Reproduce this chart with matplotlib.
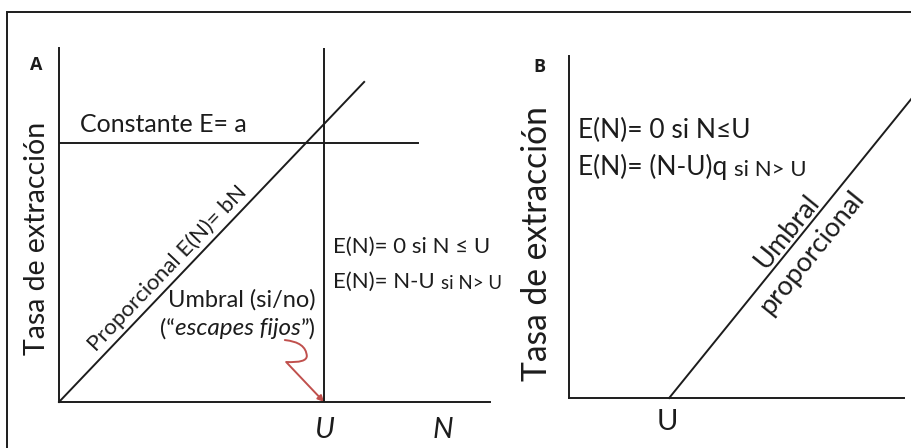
import numpy as np
import matplotlib
matplotlib.use("Agg")
import matplotlib.pyplot as plt
from matplotlib.path import Path
from matplotlib.patches import FancyArrowPatch, Rectangle

plt.rcParams['font.family'] = ['Lato', 'DejaVu Sans']

# ---- Panel A: harvest rules (axis units 0..100) ----
U_A = 61.5          # threshold population size
a_const = 73.2      # constant harvest E = a
const_end = 83.3    # extent of constant-harvest line
b_slope = 1.277     # proportional harvest E(N) = bN
prop_end = 70.8     # extent of proportional line
n_label_x = 89.1    # position of the N label

# ---- Panel B: proportional threshold ----
U_B = 29.9
q_slope = 1.21
thr_end = 102.4

# red pointer from the "escapes fijos" note down to U
pointer_x = [52.4, 57.3, 57.5, 57.5, 52.7, 61.5]
pointer_y = [17.5, 16.9, 13.0, 11.0, 11.3, 0.0]

ink = '#1c1c1c'
LW = 1.4
W, H = 912, 448

fig = plt.figure(figsize=(W / 100, H / 100), dpi=100)


def axes_px(left, right, top, bottom):
    return fig.add_axes([left / W, 1 - bottom / H, (right - left) / W, (bottom - top) / H])


axA = axes_px(59, 490, 48, 402)
axB = axes_px(569, 904, 56, 398)
for ax in (axA, axB):
    ax.set_xlim(0, 100)
    ax.set_ylim(0, 100)
    for s in ('top', 'right'):
        ax.spines[s].set_visible(False)
    for s in ('left', 'bottom'):
        ax.spines[s].set_linewidth(LW)
        ax.spines[s].set_color(ink)
    ax.set_xticks([])
    ax.set_yticks([])
    ax.patch.set_alpha(0)

# outer frame
fig.add_artist(Rectangle((7.3 / W, -0.05), 1.0, 1 - 11.7 / H + 0.05,
                         transform=fig.transFigure, fill=False, lw=1.4, ec=ink))

# ---------------- Panel A ----------------
axA.plot([0, const_end], [a_const, a_const], color=ink, lw=LW)
axA.plot([U_A, U_A], [0, 100], color=ink, lw=LW)
axA.plot([0, prop_end], [0, b_slope * prop_end], color=ink, lw=LW, clip_on=False)

axA.text(4.9, 76.3, "Constante E= a", fontsize=18, color=ink, va='baseline')

# unit normal (display-space) for the offset of the diagonal label
p0 = axA.transData.transform((0, 0))
p1 = axA.transData.transform((prop_end, b_slope * prop_end))
d = (p1 - p0) / np.linalg.norm(p1 - p0)
nrm = np.array([-d[1], d[0]])
xf = 27.5
axA.annotate("Proporcional E(N)= bN", xy=(xf, b_slope * xf),
             xytext=tuple(5 * nrm), textcoords='offset points',
             rotation=np.degrees(np.arctan2(d[1], d[0])), rotation_mode='anchor',
             ha='center', va='baseline', fontsize=16, color=ink)

axA.text(25.3, 26.9, "Umbral (si/no)", fontsize=17, color=ink, va='baseline')
t1 = axA.text(23.4, 18.9, "(\u201c", fontsize=17, color=ink, va='baseline')
t2 = axA.annotate("escapes fijos", xy=(1, 0), xycoords=t1, va='bottom',
                  fontsize=17.5, color=ink, style='italic')
axA.annotate("\u201d)", xy=(1, 0), xycoords=t2, va='bottom',
             fontsize=17, color=ink)

axA.text(63.6, 42.1, "E(N)= 0 si N \u2264 U", fontsize=16, color=ink, va='baseline')
e1 = axA.text(63.6, 32.2, "E(N)= N-U ", fontsize=16, color=ink, va='baseline')
axA.annotate("si N> U", xy=(1, 0), xycoords=e1, va='bottom', fontsize=13.5, color=ink)

axA.text(U_A, -8, "U", fontsize=21, style='italic', ha='center', va='center', color=ink)
axA.text(n_label_x, -8, "N", fontsize=21, style='italic', ha='center', va='center', color=ink)

arrow_path = Path(list(zip(pointer_x, pointer_y)),
                  [Path.MOVETO, Path.CURVE3, Path.CURVE3, Path.CURVE3, Path.CURVE3, Path.LINETO])
axA.add_patch(FancyArrowPatch(path=arrow_path, arrowstyle='-|>', mutation_scale=9,
                              color='#c0504d', lw=1.4, transform=axA.transData, clip_on=False))

fig.text(36 / W, 1 - 65 / H, "A", fontsize=13, fontweight='bold', family='Open Sans',
         ha='center', va='center', color=ink)
fig.text(37 / W, 1 - 238 / H, "Tasa de extracci\u00f3n", fontsize=20.5, rotation=90,
         ha='center', va='center', color=ink)

# ---------------- Panel B ----------------
axB.plot([U_B, thr_end], [0, q_slope * (thr_end - U_B)], color=ink, lw=LW, clip_on=False)

axB.text(2.7, 76.0, "E(N)= 0 si N\u2264U", fontsize=19, color=ink, va='baseline')
f1 = axB.text(2.7, 65.2, "E(N)= (N-U)q ", fontsize=19, color=ink, va='baseline')
axB.annotate("si N> U", xy=(1, 0), xycoords=f1, va='bottom', fontsize=16, color=ink)

q0 = axB.transData.transform((U_B, 0))
q1 = axB.transData.transform((thr_end, q_slope * (thr_end - U_B)))
dB = (q1 - q0) / np.linalg.norm(q1 - q0)
nB = np.array([-dB[1], dB[0]])
angB = np.degrees(np.arctan2(dB[1], dB[0]))
xb = 68.1
yb = q_slope * (xb - U_B)
axB.annotate("Umbral", xy=(xb, yb), xytext=tuple(4 * nB), textcoords='offset points',
             rotation=angB, rotation_mode='anchor', ha='center', va='baseline',
             fontsize=19.5, color=ink)
axB.annotate("proporcional", xy=(xb, yb), xytext=tuple(-5 * nB), textcoords='offset points',
             rotation=angB, rotation_mode='anchor', ha='center', va='top',
             fontsize=19.5, color=ink)

axB.text(U_B - 0.6, -7, "U", fontsize=21, ha='center', va='center', color=ink)

fig.text(539 / W, 1 - 67 / H, "B", fontsize=13, fontweight='bold', family='Open Sans',
         ha='center', va='center', color=ink)
fig.text(537 / W, 1 - 244 / H, "Tasa de extracci\u00f3n", fontsize=24.2, rotation=90,
         ha='center', va='center', color=ink)

fig.savefig("out.png", dpi=100, facecolor='white')
